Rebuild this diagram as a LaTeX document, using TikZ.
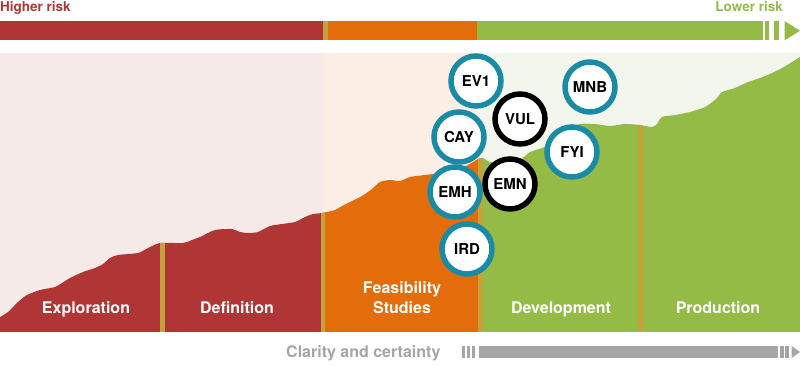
\documentclass[tikz,border=0pt]{standalone}
\usepackage{fontspec}
\setmainfont{TeX Gyre Heros}
\usetikzlibrary{positioning}
\definecolor{riskred}{HTML}{B03636}
\definecolor{riskorange}{HTML}{E36C0B}
\definecolor{riskgreen}{HTML}{95BB47}
\definecolor{stripegold}{HTML}{C4A23C}
\definecolor{palered}{HTML}{F5EAE8}
\definecolor{paleorange}{HTML}{FBEEE5}
\definecolor{palegreen}{HTML}{F3F6EC}
\definecolor{sitecyan}{HTML}{1A8BA5}
\definecolor{bargray}{HTML}{A5A5A5}

\begin{document}
\begin{tikzpicture}[
x=1pt, y=-1pt,
phase/.style={text=white, inner sep=0pt, anchor=base, align=center, font=\bfseries\fontsize{16}{20}\selectfont},
risklabel/.style={inner sep=0pt, font=\bfseries\fontsize{13.5}{16}\selectfont},
site/.style={circle, draw=sitecyan, line width=5.5pt, fill=white, minimum size=50pt, inner sep=0pt, font=\bfseries\fontsize{15}{17}\selectfont},
closesite/.style={site, draw=black}
]
\useasboundingbox (0,0) rectangle (800,366);

\node[risklabel, anchor=base west, text=riskred] (higher) at (0,12) {Higher risk};
\node[risklabel, anchor=base east, text=riskgreen] (lower) at (783,12) {Lower risk};

\fill[riskred] (0,21) rectangle (323,40.5);
\fill[stripegold] (323,21) rectangle (328,40.5);
\fill[riskorange] (328,21) rectangle (477,40.5);
\fill[riskgreen] (477,21) rectangle (763,40.5);
\fill[riskgreen] (764.5,21) rectangle (769,40.5);
\fill[riskgreen] (774,21) rectangle (778.5,40.5);
\fill[riskgreen] (784.5,21) -- (800,30.75) -- (784.5,40.5) -- cycle;

\fill[palered] (0,53) rectangle (323,332);
\fill[paleorange] (323,53) rectangle (478,332);
\fill[palegreen] (478,53) rectangle (800,332);

\begin{scope}
\clip (0,332) -- plot[smooth, tension=0.4] coordinates {
(0,317) (8,312) (18,302) (27,295) (40,290) (55,287) (62,283) (70,278) (83,272)
(95,268) (103,264) (110,258) (118,255) (138,253) (148,248) (160,243) (183,243)
(192,240) (200,237) (215,230) (232,229) (240,232) (248,233) (258,232) (270,226)
(282,224) (295,222) (305,217) (313,214) (322,213) (335,210) (342,206) (350,202)
(362,196) (372,189) (380,182) (390,180) (400,181) (410,177) (425,175) (440,173)
(455,170) (468,165) (478,159) (483,158) (490,162) (505,163) (520,160) (530,152)
(545,147) (555,140) (565,130) (580,124) (595,124) (610,126) (625,124) (640,125)
(652,127) (657,124) (662,117) (675,115) (690,112) (705,107) (716,99) (722,92)
(735,88) (748,82) (760,78) (772,73) (782,68) (792,62) (800,57)} -- (800,332) -- cycle;
\fill[riskred] (0,53) rectangle (322,332);
\fill[riskorange] (322,53) rectangle (480,332);
\fill[riskgreen] (480,53) rectangle (800,332);
\foreach \x in {160,320.5,478,638}
  \fill[stripegold] (\x,53) rectangle ++(4.5,279);
\end{scope}

\node[phase] (explore) at (86,313) {Exploration};
\node[phase] (define) at (237,313) {Definition};
\node[phase, anchor=center] (feasible) at (402,298) {Feasibility\\Studies};
\node[phase] (develop) at (561,313) {Development};
\node[phase] (produce) at (718,313) {Production};

\node[site] (ev1) at (476,81) {EV1};
\node[site] (mnb) at (590,87) {MNB};
\node[closesite] (vul) at (520,119) {VUL};
\node[site] (cay) at (459,137) {CAY};
\node[site] (fyi) at (572,152) {FYI};
\node[closesite] (emn) at (510,184) {EMN};
\node[site] (emh) at (455,192) {EMH};
\node[site] (ird) at (467,249) {IRD};

\node[risklabel, anchor=base west, text=bargray, font=\bfseries\fontsize{16}{18}\selectfont] (clarity) at (286,357) {Clarity and certainty};
\foreach \x in {462,467,472}
  \fill[bargray] (\x,346) rectangle ++(2.5,12);
\fill[bargray] (479,346) rectangle (778,358);
\fill[bargray] (779.5,346) rectangle (783.5,358);
\fill[bargray] (785,346) rectangle (788.5,358);
\fill[bargray] (791.5,346) -- (800,352) -- (791.5,358) -- cycle;
\end{tikzpicture}
\end{document}
